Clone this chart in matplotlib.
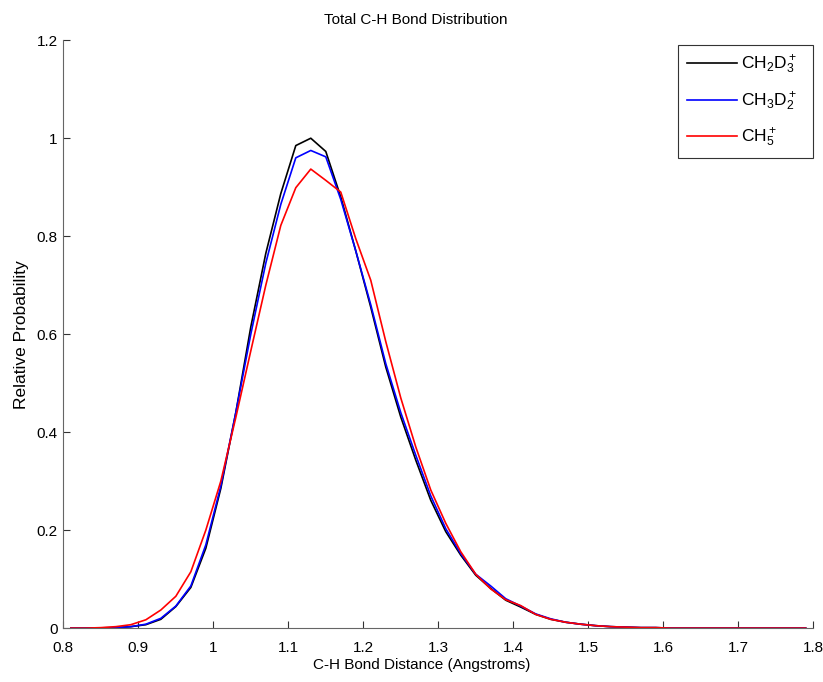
import numpy as np
import matplotlib
matplotlib.use('Agg')
import matplotlib.pyplot as plt
from matplotlib.ticker import FuncFormatter

plt.rcParams['font.family'] = ['Liberation Sans', 'DejaVu Sans']
plt.rcParams['mathtext.fontset'] = 'custom'
plt.rcParams['mathtext.rm'] = 'Liberation Sans'
plt.rcParams['mathtext.it'] = 'Liberation Sans'

# bond distance grid (Angstroms)
distance = np.round(np.arange(0.81, 1.80, 0.02), 2)

# relative probability
ch2d3 = [0, 0, 0.0005, 0.001, 0.003, 0.007, 0.018, 0.044, 0.083, 0.163,
         0.285, 0.44, 0.615, 0.765, 0.887, 0.985, 1.0, 0.973, 0.88, 0.77,
         0.655, 0.533, 0.431, 0.343, 0.261, 0.197, 0.149, 0.108, 0.081, 0.057,
         0.043, 0.028, 0.018, 0.012, 0.008, 0.005, 0.003, 0.002, 0.001, 0.001,
         0, 0, 0, 0, 0, 0, 0, 0, 0, 0]
ch3d2 = [0, 0, 0.0005, 0.001, 0.003, 0.008, 0.02, 0.045, 0.086, 0.17,
         0.29, 0.44, 0.6, 0.745, 0.865, 0.96, 0.975, 0.962, 0.875, 0.77,
         0.66, 0.54, 0.44, 0.353, 0.27, 0.203, 0.152, 0.11, 0.086, 0.06,
         0.045, 0.029, 0.019, 0.012, 0.008, 0.005, 0.003, 0.002, 0.001, 0.001,
         0, 0, 0, 0, 0, 0, 0, 0, 0, 0]
ch5 = [0, 0, 0.001, 0.003, 0.007, 0.017, 0.037, 0.065, 0.115, 0.2,
       0.3, 0.43, 0.566, 0.7, 0.822, 0.899, 0.937, 0.914, 0.89, 0.795,
       0.71, 0.585, 0.47, 0.37, 0.282, 0.214, 0.156, 0.11, 0.08, 0.058,
       0.046, 0.028, 0.018, 0.012, 0.008, 0.005, 0.003, 0.002, 0.001, 0.001,
       0, 0, 0, 0, 0, 0, 0, 0, 0, 0]

fig = plt.figure(figsize=(8.23, 6.82), dpi=100)
ax = fig.add_axes([0.077, 0.079, 0.911, 0.862])

# trailing spaces widen the legend box on the right like the original
ax.plot(distance, ch2d3, color='black', lw=1.2, label=r'CH$_2$D$_3^+$' + '  ')
ax.plot(distance, ch3d2, color='blue', lw=1.2, label=r'CH$_3$D$_2^+$' + '  ')
ax.plot(distance, ch5, color='red', lw=1.2, label=r'CH$_5^+$')

ax.set_xlim(0.8, 1.8)
ax.set_ylim(0, 1.2)
ax.set_xticks(np.arange(0.8, 1.81, 0.1))
ax.set_yticks(np.arange(0, 1.21, 0.2))
ax.xaxis.set_major_formatter(FuncFormatter(lambda v, p: '%g' % round(v, 2)))
ax.yaxis.set_major_formatter(FuncFormatter(lambda v, p: '%g' % round(v, 2)))
ax.tick_params(direction='in', length=5, width=0.8, color='#333333', labelsize=11)
ax.tick_params(axis='x', pad=9)
ax.tick_params(axis='y', pad=4)

for s in ['top', 'right']:
    ax.spines[s].set_visible(False)
for s in ['left', 'bottom']:
    ax.spines[s].set_color('#666666')

# text is centred a little left of the axes middle in the original
ax.text(0.47, 1.0 + 13 / 588, 'Total C-H Bond Distribution', transform=ax.transAxes,
        ha='center', va='bottom', fontsize=11)
ax.text(0.478, -37 / 588, 'C-H Bond Distance (Angstroms)', transform=ax.transAxes,
        ha='center', va='center', fontsize=11)
ax.text(-42 / 750, 0.5, 'Relative Probability', transform=ax.transAxes,
        ha='center', va='center', rotation=90, fontsize=12.5)

leg = ax.legend(loc='upper right', bbox_to_anchor=(1.0, 1.0 - 5 / 588), fontsize=12.5,
                handlelength=2.9, labelspacing=0.8, borderpad=0.5,
                handletextpad=0.2, borderaxespad=0, fancybox=False, framealpha=1)
leg.get_frame().set_edgecolor('#333333')
leg.get_frame().set_linewidth(0.8)

fig.savefig('out.png', dpi=100)
